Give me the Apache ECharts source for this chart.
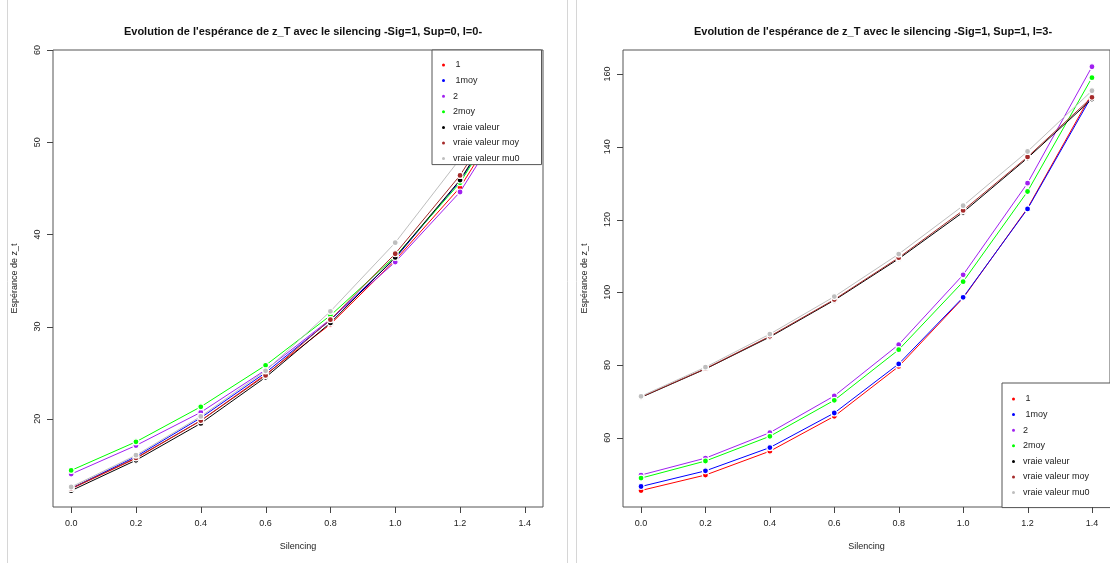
<!DOCTYPE html>
<html lang="fr">
<head>
    <meta charset="UTF-8">
    <title>Espérance de z_T</title>
    <style>
        html, body { margin: 0; padding: 0; background: #fff; }
        #main { width: 1110px; height: 563px; }
    </style>
</head>
<body>
<div id="main"></div>
<script src="https://cdn.jsdelivr.net/npm/echarts@6/dist/echarts.min.js"></script>
<script>
    const myChart = echarts.init(document.getElementById('main'));

    // axe x : silencing
    const silencing = [0, 0.2, 0.4, 0.6, 0.8, 1.0, 1.2, 1.4];
    const xTicks = [0, 0.2, 0.4, 0.6, 0.8, 1.0, 1.2, 1.4];

    // noms des courbes (legende)
    const names = ['1', '1moy', '2', '2moy', 'vraie valeur', 'vraie valeur moy', 'vraie valeur mu0'];
    const colors = ['#ff0000', '#0000ff', '#a020f0', '#00ff00', '#000000', '#a52a2a', '#bebebe'];

    // panneau gauche : Sig=1, Sup=0, I=0
    const left1      = [12.4, 15.7, 19.8, 24.8, 30.25, 37.2, 45.1, 56.3];
    const left1moy   = [12.45, 15.9, 20.1, 25.0, 30.7, 37.4, 45.8, 56.8];
    const left2      = [14.0, 17.1, 20.7, 25.3, 30.8, 37.0, 44.6, 55.8];
    const left2moy   = [14.4, 17.5, 21.3, 25.8, 31.2, 37.6, 45.6, 56.9];
    const leftVV     = [12.2, 15.5, 19.5, 24.5, 30.4, 37.5, 45.9, 57.0];
    const leftVVmoy  = [12.45, 15.75, 19.8, 24.7, 30.75, 37.9, 46.4, 57.4];
    const leftVVmu0  = [12.6, 16.05, 20.25, 25.2, 31.65, 39.1, 48.2, 58.2];
    const leftYTicks = [20, 30, 40, 50, 60];

    // panneau droit : Sig=1, Sup=1, I=3
    const right1     = [45.5, 49.75, 56.3, 65.9, 79.6, 98.4, 123.1, 154.7];
    const right1moy  = [46.6, 50.9, 57.3, 66.8, 80.3, 98.6, 122.9, 154.0];
    const right2     = [49.75, 54.4, 61.4, 71.5, 85.6, 104.8, 130.0, 162.0];
    const right2moy  = [48.9, 53.6, 60.4, 70.3, 84.2, 102.9, 127.7, 159.0];
    const rightVV    = [71.1, 78.9, 87.7, 97.8, 109.2, 122.0, 136.9, 153.1];
    const rightVVmoy = [71.2, 79.0, 87.9, 98.0, 109.5, 122.5, 137.2, 153.6];
    const rightVVmu0 = [71.4, 79.4, 88.5, 98.8, 110.5, 123.8, 138.7, 155.4];
    const rightYTicks = [60, 80, 100, 120, 140, 160];

    const leftSets = [left1, left1moy, left2, left2moy, leftVV, leftVVmoy, leftVVmu0];
    const rightSets = [right1, right1moy, right2, right2moy, rightVV, rightVVmoy, rightVVmu0];

    // bornes des axes (style R : +4 % de chaque cote)
    const xMin = -0.056, xMax = 1.456;
    const leftYMin = 10.43, leftYMax = 60.0;
    const rightYMin = 40.96, rightYMax = 166.6;

    const font = 'Liberation Sans, Arial, sans-serif';
    const frameColor = '#555';
    const tickColor = '#444';

    function makeSeries(sets, idx) {
        return sets.map((vals, i) => ({
            name: names[i],
            type: 'line',
            xAxisIndex: idx,
            yAxisIndex: idx,
            data: vals.map((v, k) => [silencing[k], v]),
            symbol: 'circle',
            symbolSize: 6,
            showSymbol: true,
            lineStyle: { width: 1, color: colors[i] },
            itemStyle: { color: colors[i], borderColor: '#fff', borderWidth: 1.2 },
            emphasis: { disabled: true },
            z: 2 + i
        }));
    }

    function makeX(idx) {
        return {
            gridIndex: idx,
            type: 'value',
            min: xMin,
            max: xMax,
            name: 'Silencing',
            nameLocation: 'middle',
            nameGap: 35,
            nameTextStyle: { fontFamily: font, fontSize: 9, color: '#222' },
            axisLine: { show: false, onZero: false },
            axisTick: { show: false },
            axisLabel: {
                customValues: xTicks, fontFamily: font, fontSize: 9, color: '#222', margin: 12,
                formatter: v => v.toFixed(1)
            },
            splitLine: { show: false }
        };
    }

    function makeY(idx, min, max, ticks) {
        return {
            gridIndex: idx,
            type: 'value',
            min: min,
            max: max,
            name: 'Espérance de z_t',
            nameLocation: 'middle',
            nameGap: 34,
            nameRotate: 90,
            nameTextStyle: { fontFamily: font, fontSize: 9, color: '#222' },
            axisLine: { show: false, onZero: false },
            axisTick: { show: false },
            axisLabel: {
                customValues: ticks, rotate: 90, fontFamily: font, fontSize: 9, color: '#222', margin: 11
            },
            splitLine: { show: false }
        };
    }

    function makeLegend(left, top, padding) {
        return {
            orient: 'vertical',
            left, top,
            z: 20,
            data: names.map(n => ({ name: n, icon: 'circle' })),
            itemWidth: 5,
            itemHeight: 5,
            itemGap: 5.6,
            padding,
            backgroundColor: '#fff',
            borderColor: frameColor,
            borderWidth: 1,
            borderRadius: 0,
            selectedMode: false,
            formatter: n => (n === '1' || n === '1moy') ? ' ' + n : n,
            textStyle: { fontFamily: font, fontSize: 9, color: '#222', lineHeight: 10, padding: [0, 0, 0, 2] }
        };
    }

    // traits de separation entre les deux images
    const separators = [7.5, 567.5, 576.5].map(x => ({
        type: 'line', shape: { x1: x, y1: 0, x2: x, y2: 563 }, style: { stroke: '#d6d6d6', lineWidth: 1 }
    }));

    const option = {
        backgroundColor: '#fff',
        animation: false,
        title: [
            {
                text: "Evolution de l'espérance de z_T avec le silencing -Sig=1, Sup=0, I=0-",
                left: 298, top: 21, textAlign: 'center',
                textStyle: { fontFamily: font, fontSize: 11, fontWeight: 'bold', color: '#111' }
            },
            {
                text: "Evolution de l'espérance de z_T avec le silencing -Sig=1, Sup=1, I=3-",
                left: 868, top: 21, textAlign: 'center',
                textStyle: { fontFamily: font, fontSize: 11, fontWeight: 'bold', color: '#111' }
            }
        ],
        grid: [
            { left: 53, top: 50, width: 490, height: 457, show: true, borderColor: frameColor, borderWidth: 1 },
            { left: 623, top: 50, width: 491, height: 457, show: true, borderColor: frameColor, borderWidth: 1 }
        ],
        xAxis: [makeX(0), makeX(1)],
        yAxis: [makeY(0, leftYMin, leftYMax, leftYTicks), makeY(1, rightYMin, rightYMax, rightYTicks)],
        legend: [makeLegend(432, 50, [10, 22, 1, 8]), makeLegend(1002, 383, [11, 22, 10, 8])],
        series: [...makeSeries(leftSets, 0), ...makeSeries(rightSets, 1)],
        graphic: separators
    };

    myChart.setOption(option);

    // graduations : positions calculees par les echelles d'ECharts
    function tickLines(idx, yMin, yTicks) {
        const out = [];
        xTicks.forEach(v => {
            const p = myChart.convertToPixel({ gridIndex: idx }, [v, yMin]);
            const x = Math.round(p[0]) + 0.5;
            out.push({
                type: 'line', z: 50,
                shape: { x1: x, y1: p[1], x2: x, y2: p[1] + 6 },
                style: { stroke: tickColor, lineWidth: 1 }
            });
        });
        yTicks.forEach(v => {
            const p = myChart.convertToPixel({ gridIndex: idx }, [xMin, v]);
            const y = Math.round(p[1]) + 0.5;
            out.push({
                type: 'line', z: 50,
                shape: { x1: p[0] - 6, y1: y, x2: p[0], y2: y },
                style: { stroke: tickColor, lineWidth: 1 }
            });
        });
        return out;
    }

    myChart.setOption({
        graphic: [
            ...separators,
            ...tickLines(0, leftYMin, leftYTicks),
            ...tickLines(1, rightYMin, rightYTicks)
        ]
    });
</script>
</body>
</html>
